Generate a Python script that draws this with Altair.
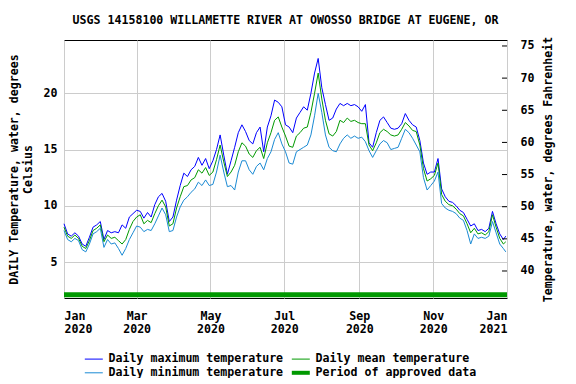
import altair as alt
import pandas as pd

# ---- data ----
days = list(range(0, 366, 3)) + [365]

tmax = [8.4, 7.5, 7.3, 7.6, 7.3, 6.6, 6.4, 7.2, 8.1, 8.3,
        8.6, 7.0, 7.8, 7.6, 7.7, 7.6, 8.3, 8.0, 9.0, 9.3,
        9.6, 9.5, 8.9, 9.4, 9.0, 10.1, 10.8, 11.1, 10.4, 8.6,
        9.0, 10.5, 11.8, 12.9, 12.6, 13.2, 13.5, 14.3, 13.6, 14.2,
        13.3, 14.0, 15.0, 16.3, 14.5, 12.8, 14.0, 15.2, 16.5, 17.2,
        16.6, 15.8, 15.5, 16.5, 17.0, 14.8, 17.0, 18.0, 19.4, 19.2,
        18.8, 17.2, 17.0, 16.5, 17.8, 18.3, 18.8, 18.5, 20.0, 21.8,
        23.1, 20.5, 19.0, 17.6, 17.8, 18.6, 19.1, 18.9, 19.1, 18.9,
        19.0, 18.8, 18.4, 19.0, 15.6, 15.2, 16.5, 17.6, 17.9, 17.4,
        16.9, 16.8, 16.9, 17.3, 18.2, 17.6, 17.2, 17.0, 15.8, 13.8,
        12.8, 13.0, 13.0, 14.2, 11.5, 10.8, 10.4, 10.3, 10.0, 9.6,
        9.4, 8.8, 8.2, 8.4, 7.8, 7.9, 7.7, 8.0, 9.5, 8.4,
        7.5, 7.0, 7.3]

tmean = [8.1, 7.3, 7.1, 7.4, 7.1, 6.4, 6.2, 6.9, 7.8, 8.0,
         8.3, 6.8, 7.4, 7.1, 7.2, 6.9, 6.6, 7.0, 7.9, 8.6,
         9.0, 9.2, 8.4, 8.7, 8.5, 9.3, 10.0, 10.5, 9.9, 8.2,
         8.4, 9.8, 10.8, 11.7, 11.8, 12.3, 12.5, 13.2, 12.9, 13.4,
         12.7, 13.0, 14.1, 15.4, 13.9, 12.6, 13.0, 13.6, 14.8, 15.6,
         15.3, 14.6, 14.3, 14.9, 15.2, 14.2, 15.6, 16.5, 17.6, 17.9,
         17.0, 16.2, 15.3, 15.2, 16.2, 16.5, 16.9, 17.0, 18.3, 20.0,
         21.8, 19.5, 17.6, 16.4, 16.2, 16.6, 17.6, 17.4, 17.8, 17.5,
         17.6, 17.4, 17.3, 17.3, 15.4, 14.9, 15.6, 16.5, 16.8, 16.6,
         16.3, 16.2, 16.3, 16.8, 17.4, 17.1, 16.7, 16.6, 15.4, 13.3,
         12.2, 12.4, 12.7, 13.8, 11.0, 10.4, 10.1, 10.0, 9.7, 9.3,
         9.1, 8.4, 7.6, 8.0, 7.5, 7.6, 7.4, 7.7, 9.2, 8.1,
         7.1, 6.6, 6.8]

tmin = [7.8, 7.0, 6.8, 7.1, 6.9, 6.1, 5.9, 6.6, 7.5, 7.7,
        8.0, 6.3, 7.0, 6.6, 6.7, 6.2, 5.6, 6.2, 7.0, 7.6,
        8.2, 8.1, 7.7, 7.9, 7.8, 8.4, 9.1, 9.8, 9.2, 7.7,
        7.8, 9.0, 9.9, 10.5, 10.8, 11.2, 11.5, 12.1, 11.8, 12.3,
        11.8, 11.9, 13.0, 14.5, 13.0, 11.7, 11.8, 11.4, 13.0, 14.0,
        14.0, 13.2, 12.8, 13.5, 13.8, 13.2, 14.2, 14.8, 15.9, 16.5,
        15.5, 14.8, 13.8, 13.7, 14.8, 15.0, 15.2, 15.4, 16.3, 18.0,
        20.0, 18.3, 16.3, 15.2, 14.9, 14.8, 15.5, 16.0, 16.3, 16.0,
        16.2, 16.0, 16.1, 15.7, 14.9, 14.3, 14.9, 15.5, 15.8, 15.6,
        15.0, 15.1, 15.2, 16.0, 16.8, 16.5, 16.0, 15.4, 14.8, 12.5,
        11.4, 11.8, 12.2, 13.0, 10.2, 9.8, 9.6, 9.5, 9.3, 8.9,
        8.7, 7.8, 6.6, 7.5, 7.1, 7.2, 7.1, 7.3, 8.6, 7.6,
        6.6, 6.2, 5.9]

approved_dates = ["2020-01-01T00:00:00", "2021-01-01T00:00:00"]
approved_level = [2.1, 2.1]

f_ticks = [40, 45, 50, 55, 60, 65, 70, 75]
c_ticks = [5, 10, 15, 20]

series_names = ["Daily maximum temperature", "Daily mean temperature",
                "Daily minimum temperature", "Period of approved data"]
series_colors = ["#0000ff", "#009900", "#1a8ad4", "#009900"]

FONT = "DejaVu Sans Mono"
FS = 11.6

start = pd.Timestamp("2020-01-01")
dates = [(start + pd.Timedelta(days=d)).strftime("%Y-%m-%dT%H:%M:%S") for d in days]

rows = []
for name, vals in zip(series_names[:3], [tmax, tmean, tmin]):
    for dt, v in zip(dates, vals):
        rows.append({"date": dt, "value": v, "series": name})
df = pd.DataFrame(rows)

appr = pd.DataFrame({"date": approved_dates, "value": approved_level,
                     "series": [series_names[3]] * 2})
fdf = pd.DataFrame({"f": f_ticks})

x_values = [alt.DateTime(year=2020, month=m, date=1) for m in [1, 3, 5, 7, 9, 11]] + \
           [alt.DateTime(year=2021, month=1, date=1)]

x_enc = alt.X("date:T",
              scale=alt.Scale(domain=[alt.DateTime(year=2020, month=1, date=1),
                                      alt.DateTime(year=2021, month=1, date=1)]),
              axis=alt.Axis(values=x_values, title=None, grid=True, gridColor="#cccccc",
                            ticks=False, domain=False, labelPadding=12, labelLineHeight=13,
                            labelExpr="[timeFormat(datum.value, '%b'), timeFormat(datum.value, '%Y')]"))

y_scale = alt.Scale(domain=[1.8, 24.74], nice=False, zero=False)
y_enc = alt.Y("value:Q", scale=y_scale,
              axis=alt.Axis(values=c_ticks, title=["DAILY Temperature, water, degrees", "Celsius"],
                            grid=True, gridColor="#cccccc", ticks=False, domain=False,
                            labelPadding=7, titlePadding=10))

color_enc = alt.Color(
    "series:N", scale=alt.Scale(domain=series_names, range=series_colors),
    legend=alt.Legend(title=None, orient="none", legendX=24, legendY=313,
                      columns=2, direction="horizontal", symbolType="stroke", symbolSize=324,
                      labelFont=FONT, labelFontSize=FS, labelFontWeight="bold",
                      labelColor="black", labelOffset=9, labelLimit=400,
                      columnPadding=-1, rowPadding=-1, padding=0,
                      symbolStrokeWidth=alt.ExprRef(
                          "datum.value === 'Period of approved data' ? 4 : 1")))

lines = alt.Chart(df).mark_line(strokeWidth=1).encode(
    x=x_enc, y=y_enc, color=color_enc)

approved = alt.Chart(appr).mark_line(strokeWidth=5).encode(
    x="date:T", y=alt.Y("value:Q", scale=y_scale), color=color_enc)

f_layer = alt.Chart(fdf).mark_rule(color="black").encode(
    y=alt.Y("f:Q", scale=alt.Scale(domain=[35.8, 75.93], nice=False, zero=False),
            axis=alt.Axis(orient="right", values=f_ticks,
                          title="Temperature, water, degrees Fahrenheit", titleAngle=270,
                          grid=False, ticks=False, domain=False,
                          labelPadding=13, titlePadding=20)),
    x=alt.value(438), x2=alt.value(443))

chart = alt.layer(alt.layer(lines, approved), f_layer).resolve_scale(y="independent").properties(
    width=443, height=258,
    title=alt.Title("USGS 14158100 WILLAMETTE RIVER AT OWOSSO BRIDGE AT EUGENE, OR",
                    font=FONT, fontSize=FS, fontWeight="bold", color="black",
                    anchor="middle", offset=10),
    padding={"left": 56, "top": 32, "right": 61, "bottom": 80},
    autosize=alt.AutoSizeParams(type="none"),
).configure(font=FONT).configure_view(stroke="black", strokeWidth=1).configure_axis(
    labelFont=FONT, labelFontSize=FS, labelFontWeight="bold", labelColor="black",
    titleFont=FONT, titleFontSize=FS, titleFontWeight="bold", titleColor="black",
)

chart.save("out.html", embed_options={"renderer": "svg", "actions": False})
